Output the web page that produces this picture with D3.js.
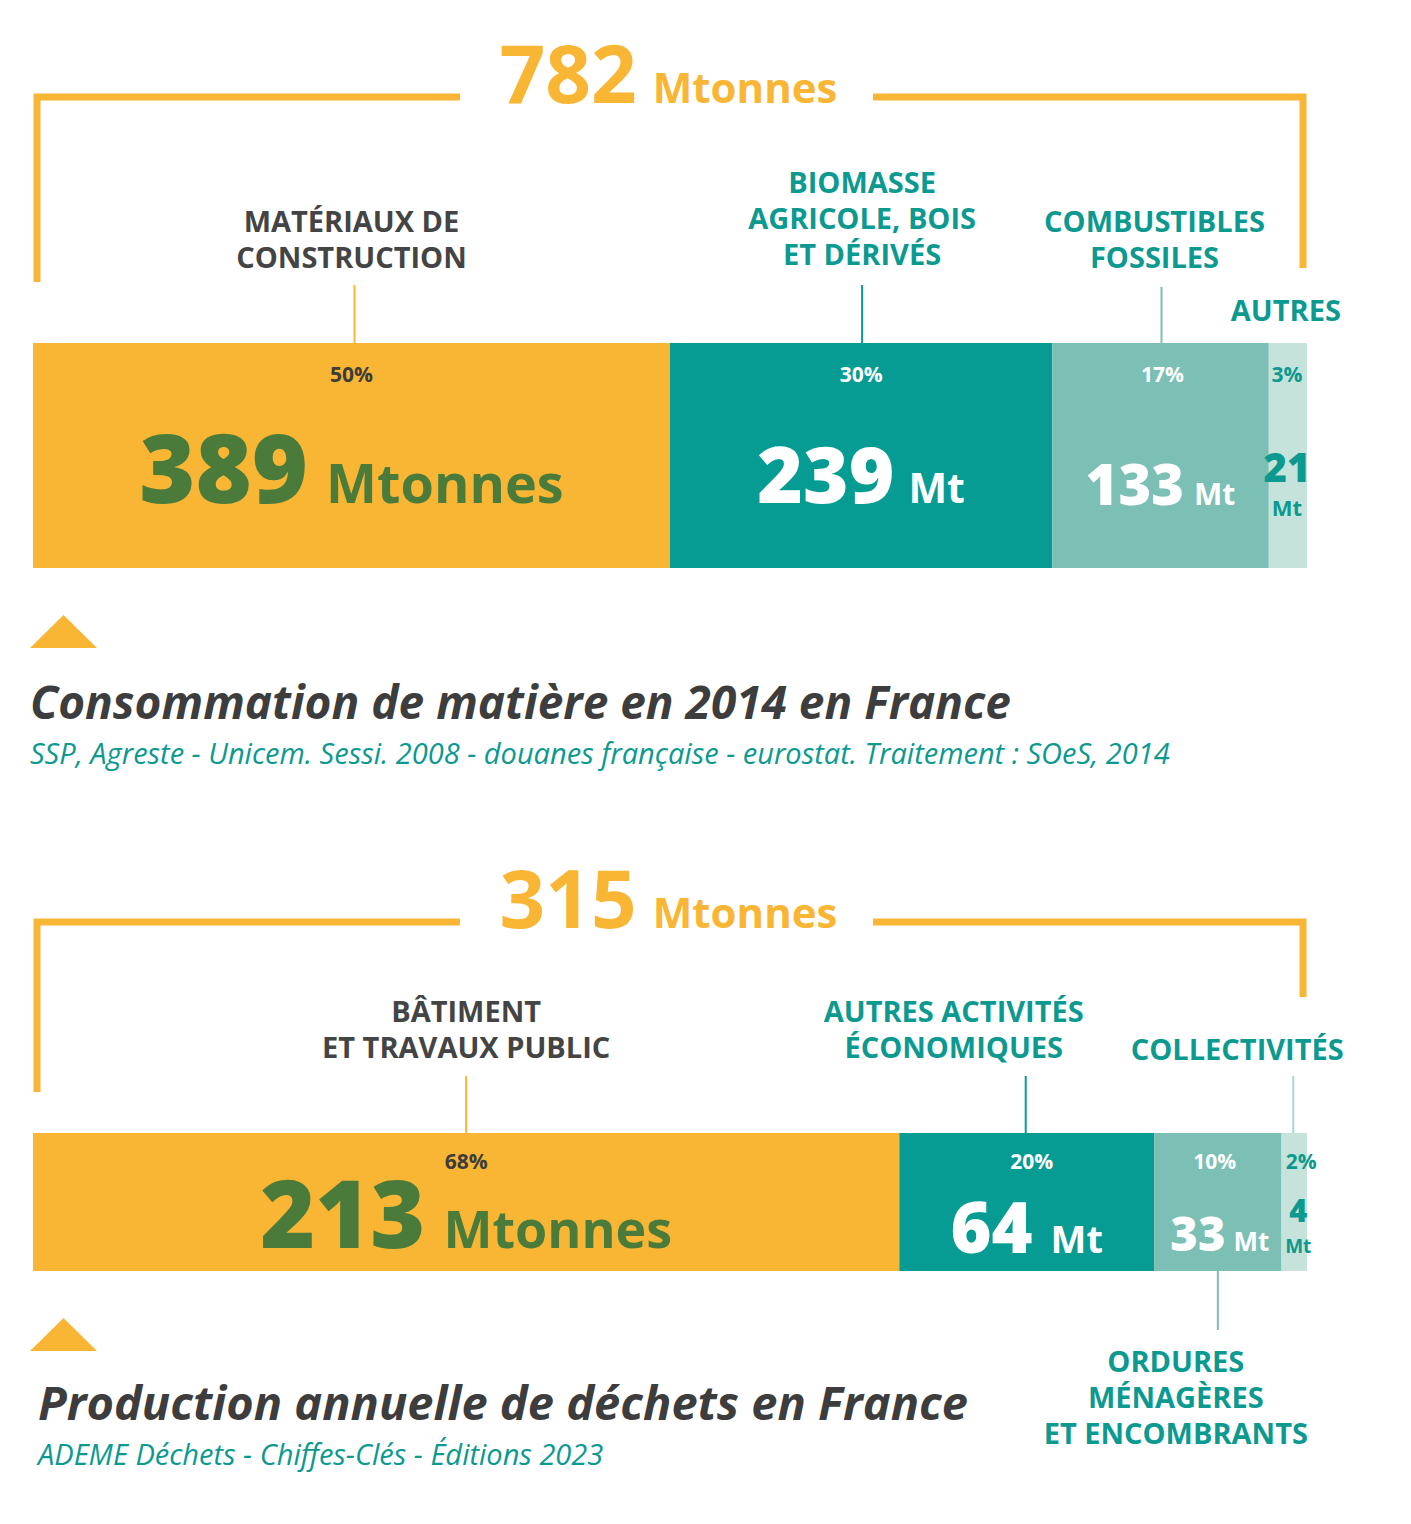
<!DOCTYPE html>
<html lang="fr">
<head>
<meta charset="UTF-8">
<title>Consommation de matière et production de déchets</title>
<script src="https://d3js.org/d3.v7.min.js"></script>
<style>
  body { margin: 0; background: #fff; }
  svg { display: block; }
  text { font-family: "Open Sans", "Noto Sans", sans-serif; }
</style>
</head>
<body>
<div id="chart"></div>
<script>
// --- data ---
const consoCategories = [["MATÉRIAUX DE", "CONSTRUCTION"], ["BIOMASSE", "AGRICOLE, BOIS", "ET DÉRIVÉS"], ["COMBUSTIBLES", "FOSSILES"], ["AUTRES"]];
const consoValues = [389, 239, 133, 21];
const consoPercents = [50, 30, 17, 3];
const consoUnits = ["Mtonnes", "Mt", "Mt", "Mt"];
const consoTotal = 782;
const consoTitle = "Consommation de matière en 2014 en France";
const consoSource = "SSP, Agreste - Unicem. Sessi. 2008 - douanes française - eurostat. Traitement : SOeS, 2014";

const dechetsCategories = [["BÂTIMENT", "ET TRAVAUX PUBLIC"], ["AUTRES ACTIVITÉS", "ÉCONOMIQUES"], ["ORDURES", "MÉNAGÈRES", "ET ENCOMBRANTS"], ["COLLECTIVITÉS"]];
const dechetsValues = [213, 64, 33, 4];
const dechetsPercents = [68, 20, 10, 2];
const dechetsUnits = ["Mtonnes", "Mt", "Mt", "Mt"];
const dechetsTotal = 315;
const dechetsTitle = "Production annuelle de déchets en France";
const dechetsSource = "ADEME Déchets - Chiffes-Clés - Éditions 2023";

// --- style ---
const YELLOW = "#F8B634", TEAL = "#069C93", LTEAL = "#7BBFB5", PALE = "#C5E3DB";
const GREEN = "#4A7B3B", DARK = "#444444", TEALTXT = "#0C998F";
const segFill = [YELLOW, TEAL, LTEAL, PALE];
const leaderColor = [YELLOW, TEAL, LTEAL, "#A9D6CD"];
const labelColor = [DARK, TEALTXT, TEALTXT, TEALTXT];
const pctColor = ["#3c3c3c", "#fff", "#fff", TEALTXT];
const valColor = [GREEN, "#fff", "#fff", TEALTXT];

const W = 1411, H = 1524;
const svg = d3.select("#chart").append("svg").attr("width", W).attr("height", H);

const x = d3.scaleLinear().domain([0, 100]).range([33, 1307]);

function drawChart(cfg) {
  const g = svg.append("g");
  const starts = d3.cumsum([0].concat(cfg.percents)).slice(0, cfg.percents.length);

  // bracket above the bar
  g.append("path")
    .attr("d", `M${x(0) + 4},${cfg.leftDrop} V${cfg.bracketY} H${cfg.gap[0]} M${cfg.gap[1]},${cfg.bracketY} H${x(100) - 4} V${cfg.rightDrop}`)
    .attr("fill", "none").attr("stroke", YELLOW).attr("stroke-width", 7);

  const tot = g.append("text").attr("x", (cfg.gap[0] + cfg.gap[1]) / 2 + 2).attr("y", cfg.bracketY + 6)
    .attr("text-anchor", "middle").attr("fill", YELLOW).attr("font-weight", 700);
  tot.append("tspan").attr("font-size", 80).text(cfg.total);
  tot.append("tspan").attr("font-size", 42).attr("dx", 16).text("Mtonnes");

  // segments
  g.selectAll("rect.seg").data(cfg.percents).join("rect")
    .attr("class", "seg")
    .attr("x", (d, i) => x(starts[i]))
    .attr("width", (d, i) => x(starts[i] + d) - x(starts[i]))
    .attr("y", cfg.barY).attr("height", cfg.barH)
    .attr("fill", (d, i) => segFill[i]);

  const mid = i => x(starts[i] + cfg.percents[i] / 2);

  // percents
  g.selectAll("text.pct").data(cfg.percents).join("text")
    .attr("class", "pct")
    .attr("x", (d, i) => mid(i) + cfg.pctDx[i]).attr("y", cfg.barY + cfg.pctOff)
    .attr("text-anchor", "middle").attr("font-size", 21).attr("font-weight", 700)
    .attr("fill", (d, i) => pctColor[i])
    .text(d => d + "%");

  // values
  cfg.values.forEach((v, i) => {
    const s = cfg.valStyle[i];
    const cx = mid(i) + (s.dx || 0);
    if (s.stacked) {
      g.append("text").attr("x", cx).attr("y", s.y).attr("text-anchor", "middle")
        .attr("font-size", s.n).attr("font-weight", 800).attr("fill", valColor[i]).text(v);
      g.append("text").attr("x", cx).attr("y", s.uy).attr("text-anchor", "middle")
        .attr("font-size", s.u).attr("font-weight", 700).attr("fill", valColor[i]).text(cfg.units[i]);
    } else {
      const t = g.append("text").attr("x", cx).attr("y", s.y).attr("text-anchor", "middle")
        .attr("font-weight", 700).attr("fill", valColor[i]);
      t.append("tspan").attr("font-size", s.n).attr("font-weight", 800).text(v);
      t.append("tspan").attr("font-size", s.u).attr("dx", s.gap).text(cfg.units[i]);
    }
  });

  // category labels + leaders
  cfg.categories.forEach((lines, i) => {
    const l = cfg.labels[i];
    const t = g.append("text").attr("text-anchor", "middle").attr("font-size", 29)
      .attr("font-weight", 700).attr("fill", labelColor[i]);
    lines.forEach((ln, j) => {
      t.append("tspan").attr("x", mid(i) + l.dx).attr("y", l.y + j * 36 + 10).text(ln);
    });
    if (l.leader) {
      const lx = mid(i) + l.leader.dx;
      g.append("line").attr("x1", lx).attr("x2", lx)
        .attr("y1", l.leader.y1).attr("y2", l.leader.y2)
        .attr("stroke", leaderColor[i]).attr("stroke-width", 2);
    }
  });

  // triangle marker, title, source
  const ty = cfg.triY;
  g.append("path").attr("d", `M30,${ty + 33} L97,${ty + 33} L63.5,${ty} Z`).attr("fill", YELLOW);

  g.append("text").attr("x", cfg.titleX).attr("y", cfg.titleY)
    .attr("font-size", cfg.titleSize).attr("font-weight", 700).attr("font-style", "italic")
    .attr("fill", "#3d3d3d").text(cfg.title);
  g.append("text").attr("x", cfg.titleX).attr("y", cfg.titleY + 45)
    .attr("font-size", cfg.sourceSize).attr("font-style", "italic")
    .attr("fill", TEALTXT).text(cfg.source);
}

drawChart({
  categories: consoCategories, values: consoValues, percents: consoPercents, units: consoUnits,
  total: consoTotal, title: consoTitle, source: consoSource,
  bracketY: 97, leftDrop: 282, rightDrop: 268, gap: [460, 873],
  barY: 343, barH: 225, pctOff: 39, pctDx: [0, 0, 2, -1],
  valStyle: [
    { n: 96, u: 54, y: 503, gap: 18 },
    { n: 78, u: 41, y: 503, gap: 14 },
    { n: 56, u: 30, y: 505, gap: 10 },
    { n: 40, u: 22, y: 482, uy: 516, stacked: true, dx: -1 }
  ],
  labels: [
    { dx: 0, y: 222, leader: { dx: 3, y1: 285, y2: 343 } },
    { dx: 1, y: 183, leader: { dx: 1, y1: 285, y2: 343 } },
    { dx: -6, y: 222, leader: { dx: 1, y1: 287, y2: 343 } },
    { dx: -2, y: 311 }
  ],
  triY: 615, titleX: 30, titleY: 719, titleSize: 46, sourceSize: 29
});

drawChart({
  categories: dechetsCategories, values: dechetsValues, percents: dechetsPercents, units: dechetsUnits,
  total: dechetsTotal, title: dechetsTitle, source: dechetsSource,
  bracketY: 922, leftDrop: 1092, rightDrop: 997, gap: [460, 873],
  barY: 1133, barH: 138, pctOff: 36, pctDx: [0, 5, -3, 7],
  valStyle: [
    { n: 94, u: 52, y: 1248, gap: 18 },
    { n: 70, u: 38, y: 1253, gap: 18 },
    { n: 47, u: 26, y: 1251, gap: 8, dx: 2 },
    { n: 31, u: 19, y: 1222, uy: 1253, stacked: true, dx: 4 }
  ],
  labels: [
    { dx: 0, y: 1012, leader: { dx: 0, y1: 1076, y2: 1133 } },
    { dx: -73, y: 1012, leader: { dx: -1, y1: 1076, y2: 1133 } },
    { dx: -42, y: 1362, leader: { dx: 0, y1: 1271, y2: 1330 } },
    { dx: -57, y: 1050, leader: { dx: -1, y1: 1076, y2: 1133 } }
  ],
  triY: 1318, titleX: 38, titleY: 1420, titleSize: 47, sourceSize: 29
});
</script>
</body>
</html>
